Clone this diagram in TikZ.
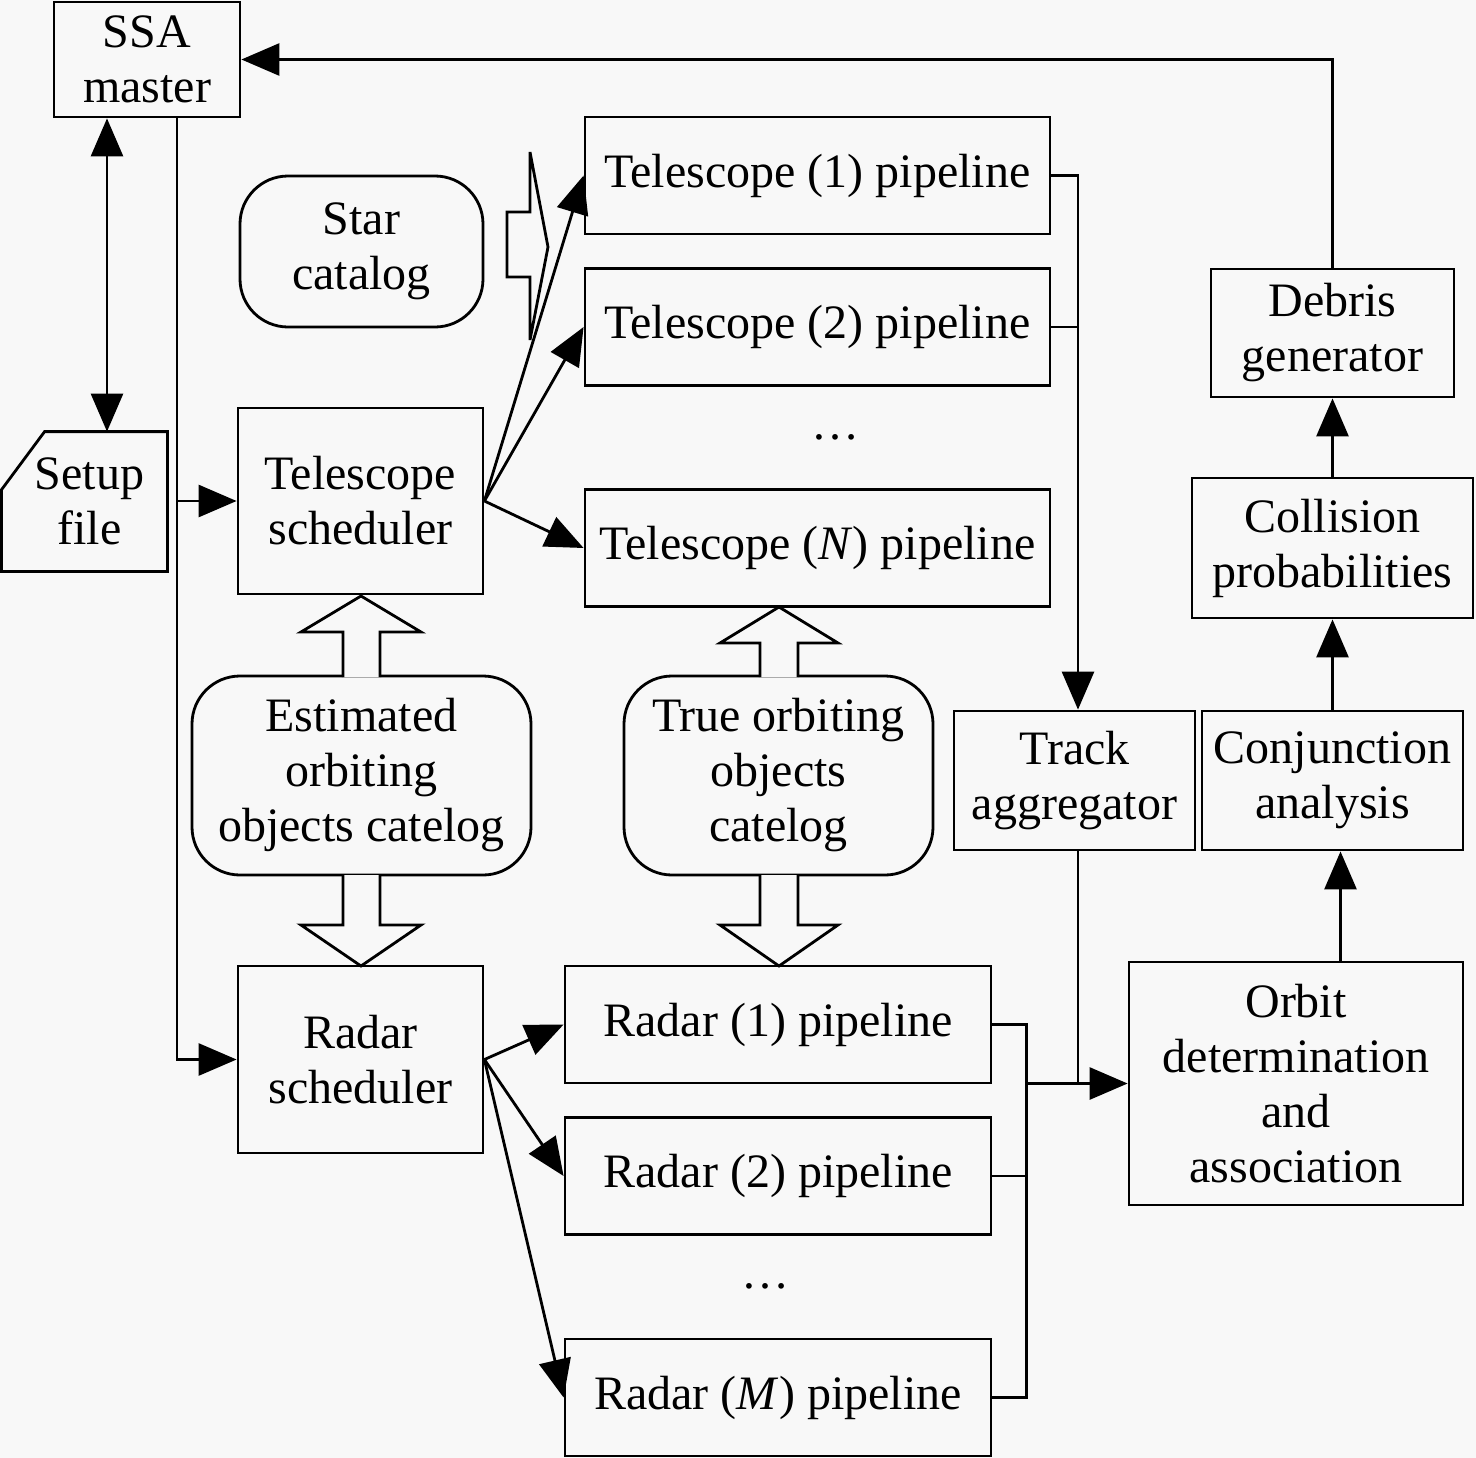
\documentclass[tikz,border=0pt]{standalone}
\usepackage{fontspec}
\setmainfont{Liberation Serif}
\usetikzlibrary{arrows.meta, positioning}
\definecolor{paper}{RGB}{248,248,248}

\begin{document}
\begin{tikzpicture}[x=0.5bp, y=-0.5bp,
  font=\fontsize{24bp}{27.5bp}\selectfont,
  box/.style={draw, line width=1.4bp, inner sep=0pt, align=center, fill=paper},
  rbox/.style={box, rounded corners=24bp},
  wire/.style={line width=1.4bp},
  arr/.style={wire, -{Triangle[length=19bp,width=16bp]}},
  dblarr/.style={wire, {Triangle[length=19bp,width=16bp]}-{Triangle[length=19bp,width=16bp]}},
  hollow/.style={draw, line width=1.4bp, fill=paper, line join=miter}]
\fill[paper] (0,0) rectangle (1476,1458);
\useasboundingbox (0,0) rectangle (1476,1458);
% Left column
\node[box, minimum width=93bp, minimum height=57.5bp] (ssa) at (147,59.5) {SSA\\master};
\node[align=center, inner sep=0pt, minimum width=82.5bp, minimum height=69.5bp] (setup) at (84.5,501.5) {\hspace*{5bp}Setup\\\hspace*{5bp}file};
\draw[wire] ([xshift=21.5bp]setup.north west) -- (setup.north east) -- (setup.south east)
  -- (setup.south west) -- ([yshift=-29bp]setup.north west) -- cycle;
\node[rbox, minimum width=121.5bp, minimum height=75.5bp] (star) at (361.5,251.5) {Star\\catalog};
\node[box, minimum width=122.5bp, minimum height=93bp] (tsched) at (360.5,501) {Telescope\\scheduler};
\node[rbox, minimum width=169.5bp, minimum height=99.5bp] (est) at (361.5,775.5) {Estimated\\orbiting\\objects catelog};
\node[box, minimum width=122.5bp, minimum height=93.5bp] (rsched) at (360.5,1059.5) {Radar\\scheduler};
% Telescope pipelines
\node[box, minimum width=232.5bp, minimum height=58.5bp] (tp1) at (817.5,175.5) {Telescope (1) pipeline};
\node[box, minimum width=232.5bp, minimum height=58.5bp] (tp2) at (817.5,327) {Telescope (2) pipeline};
\node[inner sep=0pt] (tdots) at (835,437) {\ldots};
\node[box, minimum width=232.5bp, minimum height=58.5bp] (tpn) at (817.5,548) {Telescope (\textit{N}) pipeline};
\node[rbox, minimum width=154.5bp, minimum height=99.5bp] (tru) at (778.5,775.5) {True orbiting\\objects\\catelog};
% Radar pipelines
\node[box, minimum width=213bp, minimum height=58.5bp] (rp1) at (778,1024.5) {Radar (1) pipeline};
\node[box, minimum width=213bp, minimum height=58.5bp] (rp2) at (778,1176) {Radar (2) pipeline};
\node[inner sep=0pt] (rdots) at (765,1286) {\ldots};
\node[box, minimum width=213bp, minimum height=58.5bp] (rpm) at (778,1397.5) {Radar (\textit{M}) pipeline};
% Right column
\node[box, minimum width=120.5bp, minimum height=69.5bp] (track) at (1074.5,780.5) {Track\\aggregator};
\node[box, minimum width=130.5bp, minimum height=69.5bp] (conj) at (1332.5,780.5) {Conjunction\\analysis};
\node[box, minimum width=167bp, minimum height=121.5bp] (orbit) at (1296,1083.5) {Orbit\\determination\\and\\association};
\node[box, minimum width=140.5bp, minimum height=70bp] (coll) at (1332.5,548) {Collision\\probabilities};
\node[box, minimum width=121.5bp, minimum height=64bp] (debris) at (1332.5,333) {Debris\\generator};

% Block arrows
\draw[hollow] (507,212) -- (530,212) -- (530,152) -- (548,247) -- (530,340) -- (530,277) -- (507,277) -- cycle;
\draw[hollow] (343,677) -- (343,632) -- (301,632) -- (361,596) -- (421,632) -- (380,632) -- (380,677);
\draw[hollow] (343,875) -- (343,925) -- (301,925) -- (361,966) -- (421,925) -- (380,925) -- (380,875);
\draw[hollow] (760,677) -- (760,643) -- (720,643) -- (779,607) -- (838,643) -- (798,643) -- (798,677);
\draw[hollow] (760,875) -- (760,925) -- (720,925) -- (779,966) -- (838,925) -- (798,925) -- (798,875);

% Connectors
\draw[dblarr] ([xshift=-20bp]ssa.south) -- ([xshift=-20bp]ssa.south |- setup.north);
\coordinate (ssaout) at ([xshift=15bp]ssa.south);
\draw[arr] (ssaout) |- (rsched.west);
\draw[arr] (ssaout |- tsched.west) -- (tsched.west);
\draw[arr] (tsched.east) -- (tp1.west);
\draw[arr] (tsched.east) -- (tp2.west);
\draw[arr] (tsched.east) -- (tpn.west);
\draw[arr] (rsched.east) -- (rp1.west);
\draw[arr] (rsched.east) -- (rp2.west);
\draw[arr] (rsched.east) -- (rpm.west);
\coordinate (tbus) at ([xshift=1.75bp]track.north);
\draw[arr] (tp1.east) -| (tbus);
\draw[wire] (tp2.east) -- (tp2.east -| tbus);
\draw[wire] (rp1.east) -- ++(34,0) coordinate (rbus) |- (rpm.east);
\draw[wire] (rp2.east) -- (rp2.east -| rbus);
\draw[wire] ([xshift=1.75bp]track.south) -- ([xshift=1.75bp]track.south |- orbit.west);
\draw[arr] (rbus |- orbit.west) -- (orbit.west);
\draw[arr] ([xshift=4bp]conj.south |- orbit.north) -- ([xshift=4bp]conj.south);
\draw[arr] (conj.north) -- (coll.south);
\draw[arr] (coll.north) -- (debris.south);
\draw[arr] (debris.north) |- (ssa.east);
\end{tikzpicture}
\end{document}
